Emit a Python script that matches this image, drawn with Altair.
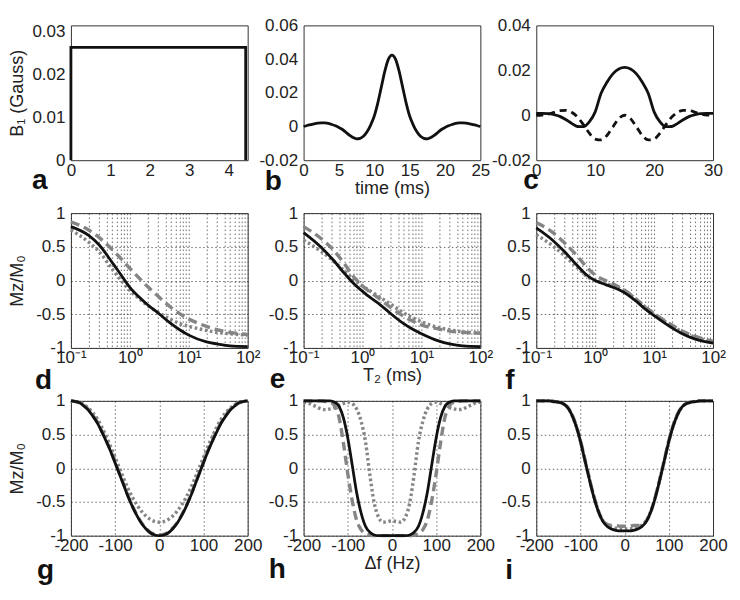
import altair as alt
import pandas as pd

FONT = "Liberation Sans"
W, H = 177, 135
INK = "#111111"
GRAY = "#858585"

# ---------------- row 1: RF pulse shapes ----------------
a_time = [0, 0, 4.43, 4.43]
a_b1 = [0, 0.0263, 0.0263, 0]

b_time = [0, 0.5, 1, 1.5, 2, 2.5, 3, 3.5, 4, 4.5, 5, 5.5, 6, 6.5, 7, 7.5, 8, 8.5, 9, 9.5,
          10, 10.5, 11, 11.5, 12, 12.5, 13, 13.5, 14, 14.5, 15, 15.5, 16, 16.5, 17, 17.5,
          18, 18.5, 19, 19.5, 20, 20.5, 21, 21.5, 22, 22.5, 23, 23.5, 24, 24.5, 25]
b_b1 = [0.0000, 0.0006, 0.0011, 0.0016, 0.0020, 0.0022, 0.0021, 0.0018, 0.0012, 0.0004,
        -0.0006, -0.0018, -0.0035, -0.0052, -0.0066, -0.0073, -0.0070, -0.0057, -0.0030, 0.0010,
        0.0062, 0.0140, 0.0235, 0.0330, 0.0400, 0.0424, 0.0400, 0.0330, 0.0235, 0.0140,
        0.0062, 0.0010, -0.0030, -0.0057, -0.0070, -0.0073, -0.0066, -0.0052, -0.0035, -0.0018,
        -0.0006, 0.0004, 0.0012, 0.0018, 0.0021, 0.0022, 0.0020, 0.0016, 0.0011, 0.0006, 0.0000]

c_time = [0, 1, 2, 3, 4, 5, 6, 7, 8, 9, 10, 11, 12, 13, 14, 15, 16, 17, 18, 19, 20,
          21, 22, 23, 24, 25, 26, 27, 28, 29, 30]
c_real = [0.0008, 0.0008, 0.0007, 0.0003, -0.0005, -0.0019, -0.0036, -0.0050, -0.0051, -0.0030,
          0.0015, 0.0098, 0.0147, 0.0184, 0.0206, 0.0213, 0.0206, 0.0184, 0.0147, 0.0098,
          0.0015, -0.0030, -0.0051, -0.0050, -0.0036, -0.0019, -0.0005, 0.0003, 0.0007, 0.0008, 0.0008]
c_imag = [0.0000, 0.0001, 0.0005, 0.0013, 0.0021, 0.0022, 0.0013, -0.0008, -0.0042, -0.0080,
          -0.0106, -0.0110, -0.0090, -0.0052, -0.0015, 0.0000, -0.0015, -0.0052, -0.0090, -0.0110,
          -0.0106, -0.0080, -0.0042, -0.0008, 0.0013, 0.0022, 0.0021, 0.0013, 0.0005, 0.0001, 0.0000]

# ---------------- row 2: Mz/M0 vs T2 ----------------
t2 = [0.1, 0.2, 0.3, 0.5, 0.7, 1, 1.5, 2, 3, 5, 7, 10, 20, 30, 50, 100]
d_solid = [0.80, 0.67, 0.53, 0.27, 0.09, -0.10, -0.26, -0.36, -0.48, -0.64, -0.73, -0.81, -0.91, -0.94, -0.97, -0.98]
d_dashed = [0.87, 0.75, 0.64, 0.46, 0.33, 0.18, 0.02, -0.09, -0.23, -0.40, -0.49, -0.57, -0.68, -0.73, -0.77, -0.80]
d_dotted = [0.75, 0.57, 0.43, 0.17, 0.01, -0.15, -0.28, -0.37, -0.47, -0.58, -0.64, -0.68, -0.74, -0.77, -0.79, -0.81]

e_solid = [0.71, 0.49, 0.33, 0.10, -0.04, -0.16, -0.28, -0.36, -0.49, -0.64, -0.72, -0.79, -0.90, -0.94, -0.97, -0.98]
e_dashed = [0.80, 0.62, 0.48, 0.24, 0.06, -0.08, -0.20, -0.28, -0.40, -0.53, -0.60, -0.66, -0.72, -0.75, -0.77, -0.78]
e_dotted = [0.60, 0.43, 0.31, 0.14, 0.02, -0.08, -0.18, -0.25, -0.35, -0.48, -0.55, -0.61, -0.70, -0.73, -0.76, -0.78]

f_solid = [0.78, 0.58, 0.43, 0.22, 0.09, 0.00, -0.06, -0.10, -0.17, -0.31, -0.42, -0.52, -0.70, -0.79, -0.87, -0.93]
f_dashed = [0.86, 0.70, 0.56, 0.36, 0.21, 0.08, 0.00, -0.05, -0.13, -0.28, -0.39, -0.49, -0.66, -0.75, -0.83, -0.90]
f_dotted = [0.68, 0.50, 0.37, 0.19, 0.07, 0.00, -0.04, -0.08, -0.14, -0.28, -0.39, -0.50, -0.67, -0.76, -0.84, -0.91]

# ---------------- row 3: Mz/M0 vs frequency offset ----------------
freq = [-200, -190, -180, -170, -160, -150, -140, -130, -120, -110, -100, -90, -80, -70, -60, -50,
        -40, -30, -20, -10, 0, 10, 20, 30, 40, 50, 60, 70, 80, 90, 100, 110, 120, 130, 140, 150,
        160, 170, 180, 190, 200]
g_solid = [1.00, 0.99, 0.97, 0.92, 0.86, 0.77, 0.67, 0.54, 0.40, 0.25, 0.08, -0.09, -0.26, -0.43, -0.58, -0.71,
           -0.82, -0.90, -0.96, -0.99, -1.00, -0.99, -0.96, -0.90, -0.82, -0.71, -0.58, -0.43, -0.26, -0.09,
           0.08, 0.25, 0.40, 0.54, 0.67, 0.77, 0.86, 0.92, 0.97, 0.99, 1.00]
g_dashed = [1.00, 0.99, 0.97, 0.93, 0.87, 0.78, 0.68, 0.55, 0.41, 0.26, 0.09, -0.08, -0.25, -0.42, -0.57, -0.70,
            -0.81, -0.89, -0.95, -0.98, -0.99, -0.98, -0.95, -0.89, -0.81, -0.70, -0.57, -0.42, -0.25, -0.08,
            0.09, 0.26, 0.41, 0.55, 0.68, 0.78, 0.87, 0.93, 0.97, 0.99, 1.00]
g_dotted = [1.00, 0.99, 0.98, 0.94, 0.89, 0.82, 0.73, 0.61, 0.47, 0.32, 0.16, 0.00, -0.16, -0.31, -0.44, -0.55,
            -0.64, -0.71, -0.76, -0.79, -0.80, -0.79, -0.76, -0.71, -0.64, -0.55, -0.44, -0.31, -0.16, 0.00,
            0.16, 0.32, 0.47, 0.61, 0.73, 0.82, 0.89, 0.94, 0.98, 0.99, 1.00]

h_solid = [1.00, 1.00, 1.00, 1.00, 1.00, 1.00, 1.00, 0.98, 0.92, 0.75, 0.45, 0.05, -0.36, -0.66, -0.86, -0.95,
           -0.99, -1.00, -1.00, -1.00, -1.00, -1.00, -1.00, -1.00, -0.99, -0.95, -0.86, -0.66, -0.36, 0.05,
           0.45, 0.75, 0.92, 0.98, 1.00, 1.00, 1.00, 1.00, 1.00, 1.00, 1.00]
h_dashed = [1.00, 1.00, 1.00, 1.00, 1.00, 0.99, 0.98, 0.93, 0.76, 0.38, -0.08, -0.48, -0.77, -0.91, -0.97, -0.99,
            -1.00, -1.00, -1.00, -1.00, -1.00, -1.00, -1.00, -1.00, -1.00, -0.99, -0.97, -0.91, -0.77, -0.48,
            -0.08, 0.38, 0.76, 0.93, 0.98, 0.99, 1.00, 1.00, 1.00, 1.00, 1.00]
h_dotted = [0.98, 0.97, 0.94, 0.91, 0.88, 0.87, 0.88, 0.90, 0.93, 0.96, 0.98, 0.96, 0.88, 0.70, 0.40, -0.10,
            -0.52, -0.73, -0.80, -0.79, -0.78, -0.79, -0.80, -0.73, -0.52, -0.10, 0.40, 0.70, 0.88, 0.96,
            0.98, 0.96, 0.93, 0.90, 0.88, 0.87, 0.88, 0.91, 0.94, 0.97, 0.98]

i_solid = [1.00, 1.00, 1.00, 1.00, 0.99, 0.98, 0.96, 0.91, 0.80, 0.63, 0.40, 0.12, -0.16, -0.42, -0.63, -0.78,
           -0.86, -0.90, -0.92, -0.93, -0.93, -0.93, -0.92, -0.90, -0.86, -0.78, -0.63, -0.42, -0.16, 0.12,
           0.40, 0.63, 0.80, 0.91, 0.96, 0.98, 0.99, 1.00, 1.00, 1.00, 1.00]
i_dashed = [1.00, 1.00, 1.00, 1.00, 0.99, 0.98, 0.96, 0.91, 0.81, 0.64, 0.41, 0.13, -0.15, -0.41, -0.63, -0.77,
            -0.83, -0.85, -0.85, -0.86, -0.86, -0.86, -0.85, -0.85, -0.83, -0.77, -0.63, -0.41, -0.15, 0.13,
            0.41, 0.64, 0.81, 0.91, 0.96, 0.98, 0.99, 1.00, 1.00, 1.00, 1.00]
i_dotted = [1.00, 1.00, 1.00, 1.00, 0.99, 0.98, 0.96, 0.91, 0.80, 0.63, 0.40, 0.12, -0.15, -0.41, -0.62, -0.77,
            -0.84, -0.87, -0.89, -0.90, -0.90, -0.90, -0.89, -0.87, -0.84, -0.77, -0.62, -0.41, -0.15, 0.12,
            0.40, 0.63, 0.80, 0.91, 0.96, 0.98, 0.99, 1.00, 1.00, 1.00, 1.00]

# ---------------- tick values ----------------
log_vals = [0.1, 0.2, 0.3, 0.4, 0.5, 0.6, 0.7, 0.8, 0.9, 1, 2, 3, 4, 5, 6, 7, 8, 9,
            10, 20, 30, 40, 50, 60, 70, 80, 90, 100]
mz_vals = [-1, -0.5, 0, 0.5, 1]
hz_vals = [-200, -100, 0, 100, 200]

SOLID = dict(color=INK, strokeWidth=2.8)
BDASH = dict(color=INK, strokeWidth=2.8, strokeDash=[7, 5])
DASHED = dict(color=GRAY, strokeWidth=3.4, strokeDash=[9, 5])
DOTTED = dict(color=GRAY, strokeWidth=3.4, strokeDash=[2.6, 2.6])

NUM = "toString(datum.value)"
LOGLAB = ("datum.value == 0.1 ? '10⁻¹' : datum.value == 1 ? '10⁰' : "
          "datum.value == 10 ? '10¹' : datum.value == 100 ? '10²' : ''")


def xaxis(values, expr=NUM, title=None, grid=False):
    return alt.Axis(values=values, labelExpr=expr, title=title, grid=grid)


def yaxis(values, title=None, grid=False):
    if title:
        return alt.Axis(values=values, labelExpr=NUM, title=title, grid=grid, titleX=-44)
    return alt.Axis(values=values, labelExpr=NUM, title=None, grid=grid)


def panel(xs, series, xsc, ysc, xax, yax, letter, dx, dy, interp="monotone"):
    layers = []
    for ys, style in series:
        df = pd.DataFrame({"x": xs, "y": ys, "i": list(range(len(xs)))})
        layers.append(
            alt.Chart(df).mark_line(interpolate=interp, **style).encode(
                x=alt.X("x:Q", scale=xsc, axis=xax),
                y=alt.Y("y:Q", scale=ysc, axis=yax),
                order=alt.Order("i:Q"),
            )
        )
    return alt.layer(*layers).properties(
        width=W, height=H,
        title=alt.Title(letter, orient="bottom", anchor="start", frame="group", dx=dx, dy=dy,
                        fontSize=28, fontWeight="bold", font=FONT, color=INK, baseline="alphabetic"),
    )


mz_scale = alt.Scale(domain=[-1, 1], nice=False, zero=False)
log_scale = alt.Scale(type="log", domain=[0.1, 100], nice=False)
hz_scale = alt.Scale(domain=[-200, 200], nice=False, zero=False)

pa = panel(a_time, [(a_b1, SOLID)],
           alt.Scale(domain=[0, 4.48], nice=False), alt.Scale(domain=[0, 0.0314], nice=False),
           xaxis([0, 1, 2, 3, 4]), yaxis([0, 0.01, 0.02, 0.03], title="B₁ (Gauss)"),
           "a", -39, 7, interp="linear")
pb = panel(b_time, [(b_b1, SOLID)],
           alt.Scale(domain=[0, 25], nice=False), alt.Scale(domain=[-0.02, 0.06], nice=False, zero=False),
           xaxis([0, 5, 10, 15, 20, 25], title="time (ms)"), yaxis([-0.02, 0, 0.02, 0.04, 0.06]),
           "b", -39, -11)
pc = panel(c_time, [(c_imag, BDASH), (c_real, SOLID)],
           alt.Scale(domain=[0, 30], nice=False), alt.Scale(domain=[-0.02, 0.04], nice=False, zero=False),
           xaxis([0, 10, 20, 30]), yaxis([-0.02, 0, 0.02, 0.04]),
           "c", -13, 7)

pd_ = panel(t2, [(d_dashed, DASHED), (d_dotted, DOTTED), (d_solid, SOLID)],
            log_scale, mz_scale, xaxis(log_vals, LOGLAB, grid=True),
            yaxis(mz_vals, title="Mᴢ/M₀", grid=True), "d", -36, 19)
pe = panel(t2, [(e_dashed, DASHED), (e_dotted, DOTTED), (e_solid, SOLID)],
           log_scale, mz_scale, xaxis(log_vals, LOGLAB, title="T₂ (ms)", grid=True),
           yaxis(mz_vals, grid=True), "e", -34, -1)
pf = panel(t2, [(f_dashed, DASHED), (f_dotted, DOTTED), (f_solid, SOLID)],
           log_scale, mz_scale, xaxis(log_vals, LOGLAB, grid=True),
           yaxis(mz_vals, grid=True), "f", -31, 19)

pg = panel(freq, [(g_dashed, DASHED), (g_dotted, DOTTED), (g_solid, SOLID)],
           hz_scale, mz_scale, xaxis(hz_vals, grid=True),
           yaxis(mz_vals, title="Mᴢ/M₀", grid=True), "g", -34, 21)
ph = panel(freq, [(h_dashed, DASHED), (h_dotted, DOTTED), (h_solid, SOLID)],
           hz_scale, mz_scale, xaxis(hz_vals, title="Δf (Hz)", grid=True),
           yaxis(mz_vals, grid=True), "h", -35, 1)
pi = panel(freq, [(i_dashed, DASHED), (i_dotted, DOTTED), (i_solid, SOLID)],
           hz_scale, mz_scale, xaxis(hz_vals, grid=True),
           yaxis(mz_vals, grid=True), "i", -31, 21)

chart = alt.concat(
    pa, pb, pc, pd_, pe, pf, pg, ph, pi,
    columns=3, spacing={"row": 53, "column": 56}, bounds="flush",
).properties(
    padding={"left": 0, "top": 7, "right": 4, "bottom": 4},
).configure(
    font=FONT,
).configure_view(
    stroke="#333333", strokeWidth=1,
).configure_axis(
    labelFont=FONT, labelFontSize=17, labelColor="#222222",
    titleFont=FONT, titleFontSize=18, titleFontWeight="normal", titleColor="#222222",
    domain=False, ticks=False, labelFlush=False, labelOverlap=False, labelBound=False,
    gridColor="#333333", gridDash=[1.5, 2.5], gridWidth=0.8, gridOpacity=0.9,
).configure_axisX(
    labelPadding=2, titlePadding=1,
).configure_axisY(
    labelPadding=6,
)

chart.save("out.html", embed_options={"renderer": "svg", "actions": False})
